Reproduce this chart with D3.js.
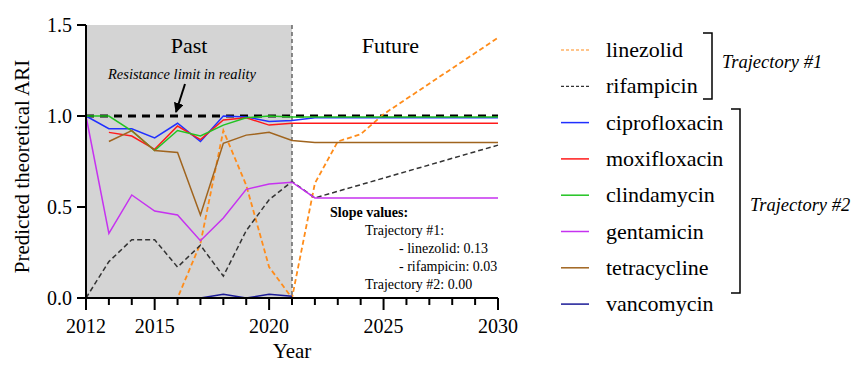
<!DOCTYPE html>
<html>
<head>
<meta charset="utf-8">
<script src="https://cdn.jsdelivr.net/npm/d3@7/dist/d3.min.js"></script>
<style>
  html, body { margin: 0; padding: 0; background: #fff; }
  svg { display: block; font-family: "Liberation Serif", "Times New Roman", serif; }
</style>
</head>
<body>
<svg id="chart" width="855" height="365"></svg>
<script>
// ---- data ----
const xTickYears = [2012, 2015, 2020, 2025, 2030];
const yTickValues = [0.0, 0.5, 1.0, 1.5];
const pastEnd = 2021;
const limitValue = 1.0;

const linezolidYears   = [2013, 2014, 2015, 2016, 2017, 2018, 2019, 2020, 2021, 2022, 2023, 2024, 2025, 2030];
const linezolidValues  = [0, 0, 0, 0, 0.30, 0.92, 0.62, 0.17, 0, 0.63, 0.86, 0.90, 1.01, 1.43];

const rifampicinYears  = [2012, 2013, 2014, 2015, 2016, 2017, 2018, 2019, 2020, 2021, 2022, 2030];
const rifampicinValues = [0, 0.20, 0.32, 0.32, 0.17, 0.29, 0.12, 0.37, 0.54, 0.64, 0.55, 0.84];

const ciproYears  = [2012, 2013, 2014, 2015, 2016, 2017, 2018, 2019, 2020, 2021, 2022, 2030];
const ciproValues = [1.0, 0.93, 0.93, 0.88, 0.96, 0.86, 1.0, 0.995, 0.97, 0.975, 0.99, 0.99];

const moxiYears  = [2013, 2014, 2015, 2016, 2017, 2018, 2019, 2020, 2021, 2022, 2030];
const moxiValues = [0.91, 0.89, 0.817, 0.945, 0.87, 0.978, 0.99, 0.95, 0.96, 0.96, 0.96];

const clindaYears  = [2012, 2013, 2014, 2015, 2016, 2017, 2018, 2019, 2020, 2021, 2022, 2030];
const clindaValues = [1.0, 1.0, 0.918, 0.81, 0.92, 0.89, 0.95, 0.99, 1.0, 0.995, 0.995, 0.995];

const gentaYears  = [2012, 2013, 2014, 2015, 2016, 2017, 2018, 2019, 2020, 2021, 2022, 2030];
const gentaValues = [1.0, 0.355, 0.566, 0.478, 0.456, 0.315, 0.44, 0.597, 0.626, 0.636, 0.55, 0.55];

const tetraYears  = [2013, 2014, 2015, 2016, 2017, 2018, 2019, 2020, 2021, 2022, 2030];
const tetraValues = [0.86, 0.92, 0.81, 0.80, 0.456, 0.85, 0.895, 0.91, 0.865, 0.855, 0.855];

const vancoYears  = [2017, 2018, 2019, 2020, 2021];
const vancoValues = [0, 0.02, 0, 0.02, 0.01];

const seriesNames  = ["linezolid", "rifampicin", "ciprofloxacin", "moxifloxacin", "clindamycin", "gentamicin", "tetracycline", "vancomycin"];
const seriesColors = ["#ff8c1a", "#333333", "#2030ff", "#ff1a1a", "#22c322", "#c632f0", "#a0641e", "#1a1a96"];
const seriesDashes = ["5,3", "5,3", null, null, null, null, null, null];
const seriesYears  = [linezolidYears, rifampicinYears, ciproYears, moxiYears, clindaYears, gentaYears, tetraYears, vancoYears];
const seriesValues = [linezolidValues, rifampicinValues, ciproValues, moxiValues, clindaValues, gentaValues, tetraValues, vancoValues];

const slopeLines = [
  { text: "Slope values:", bold: true, indent: 0 },
  { text: "Trajectory #1:", bold: false, indent: 35 },
  { text: "- linezolid: 0.13", bold: false, indent: 69 },
  { text: "- rifampicin: 0.03", bold: false, indent: 69 },
  { text: "Trajectory #2: 0.00", bold: false, indent: 35 }
];

// ---- layout ----
const svg = d3.select("#chart");
const x = d3.scaleLinear().domain([2012, 2030]).range([86, 498]);
const y = d3.scaleLinear().domain([0, 1.5]).range([298, 25]);

// shaded "past" period
svg.append("rect")
  .attr("x", x(2012)).attr("y", y(1.5))
  .attr("width", x(pastEnd) - x(2012)).attr("height", y(0) - y(1.5))
  .attr("fill", "#d4d4d4");

// period labels
svg.append("text").attr("x", x(2016.5)).attr("y", y(1.5) + 28)
  .attr("text-anchor", "middle").attr("font-size", 22).text("Past");
svg.append("text").attr("x", x(2025.3)).attr("y", y(1.5) + 28)
  .attr("text-anchor", "middle").attr("font-size", 22).text("Future");

// divider between past and future
svg.append("line")
  .attr("x1", x(pastEnd)).attr("x2", x(pastEnd))
  .attr("y1", y(1.5)).attr("y2", y(0))
  .attr("stroke", "#666").attr("stroke-width", 1.5).attr("stroke-dasharray", "4,3");

// resistance limit
svg.append("line")
  .attr("x1", x(2012)).attr("x2", x(2030))
  .attr("y1", y(limitValue)).attr("y2", y(limitValue))
  .attr("stroke", "#000").attr("stroke-width", 3.2).attr("stroke-dasharray", "8,6");

// series lines
const line = d3.line().x(d => x(d[0])).y(d => y(d[1]));
seriesNames.forEach((name, i) => {
  const pts = seriesYears[i].map((yr, j) => [yr, seriesValues[i][j]]);
  svg.append("path")
    .attr("d", line(pts))
    .attr("fill", "none")
    .attr("stroke", seriesColors[i])
    .attr("stroke-width", i === 0 ? 1.8 : 1.5)
    .attr("stroke-dasharray", seriesDashes[i]);
});

// annotation with arrow
svg.append("defs").append("marker")
  .attr("id", "head").attr("viewBox", "0 0 10 10")
  .attr("refX", 9).attr("refY", 5)
  .attr("markerWidth", 5).attr("markerHeight", 5)
  .attr("orient", "auto")
  .append("path").attr("d", "M0,0 L10,5 L0,10 Z").attr("fill", "#000");
svg.append("text").attr("x", 182).attr("y", 79)
  .attr("text-anchor", "middle").attr("font-style", "italic").attr("font-size", 14.5)
  .text("Resistance limit in reality");
svg.append("line")
  .attr("x1", 185).attr("y1", 84).attr("x2", 176).attr("y2", 112)
  .attr("stroke", "#000").attr("stroke-width", 2)
  .attr("marker-end", "url(#head)");

// slope annotation
const slope = svg.append("g").attr("font-size", 14);
slopeLines.forEach((l, i) => {
  slope.append("text")
    .attr("x", 330 + l.indent).attr("y", 217 + i * 18)
    .attr("font-weight", l.bold ? "bold" : "normal")
    .text(l.text);
});

// axes
const xAxis = svg.append("g").attr("transform", `translate(0,${y(0)})`);
xAxis.append("line").attr("x1", x(2012)).attr("x2", x(2030))
  .attr("stroke", "#000").attr("stroke-width", 2);
xAxis.selectAll("line.tick").data(d3.range(2012, 2031)).join("line")
  .attr("class", "tick")
  .attr("x1", d => x(d)).attr("x2", d => x(d))
  .attr("y1", 0).attr("y2", d => xTickYears.includes(d) ? 12 : 7)
  .attr("stroke", "#000").attr("stroke-width", 2);
xAxis.selectAll("text").data(xTickYears).join("text")
  .attr("x", d => x(d)).attr("y", 35)
  .attr("text-anchor", "middle").attr("font-size", 20)
  .text(d => d);

const yAxis = svg.append("g").attr("transform", `translate(${x(2012)},0)`);
yAxis.append("line").attr("y1", y(0)).attr("y2", y(1.5))
  .attr("stroke", "#000").attr("stroke-width", 2);
yAxis.selectAll("line.tick").data(yTickValues).join("line")
  .attr("class", "tick")
  .attr("x1", -9).attr("x2", 0)
  .attr("y1", d => y(d)).attr("y2", d => y(d))
  .attr("stroke", "#000").attr("stroke-width", 2);
yAxis.selectAll("text").data(yTickValues).join("text")
  .attr("x", -14).attr("y", d => y(d) + 7)
  .attr("text-anchor", "end").attr("font-size", 20)
  .text(d => d.toFixed(1));

// axis titles
svg.append("text").attr("x", x(2021)).attr("y", 358)
  .attr("text-anchor", "middle").attr("font-size", 21).text("Year");
svg.append("text")
  .attr("transform", `translate(29,${(y(0) + y(1.5)) / 2 + 5}) rotate(-90)`)
  .attr("text-anchor", "middle").attr("font-size", 21)
  .text("Predicted theoretical ARI");

// legend
const legend = svg.append("g");
seriesNames.forEach((name, i) => {
  const cy = 50 + i * 36.3;
  legend.append("line")
    .attr("x1", 561).attr("x2", 589).attr("y1", cy).attr("y2", cy)
    .attr("stroke", seriesColors[i])
    .attr("stroke-width", i < 2 ? 1.2 : 1.5)
    .attr("stroke-dasharray", i < 2 ? "3,2" : null);
  legend.append("text").attr("x", 606).attr("y", cy + 7)
    .attr("font-size", 22).text(name);
});

// trajectory brackets
function bracket(xv, y1, y2, label, ly) {
  legend.append("path")
    .attr("d", `M${xv - 9},${y1} H${xv} V${y2} H${xv - 9}`)
    .attr("fill", "none").attr("stroke", "#000").attr("stroke-width", 1.5);
  legend.append("text").attr("x", xv + 10).attr("y", ly + 6)
    .attr("font-style", "italic").attr("font-size", 18.5).text(label);
}
bracket(712, 33, 99, "Trajectory #1", 62);
bracket(740, 109, 293, "Trajectory #2", 205);
</script>
</body>
</html>
